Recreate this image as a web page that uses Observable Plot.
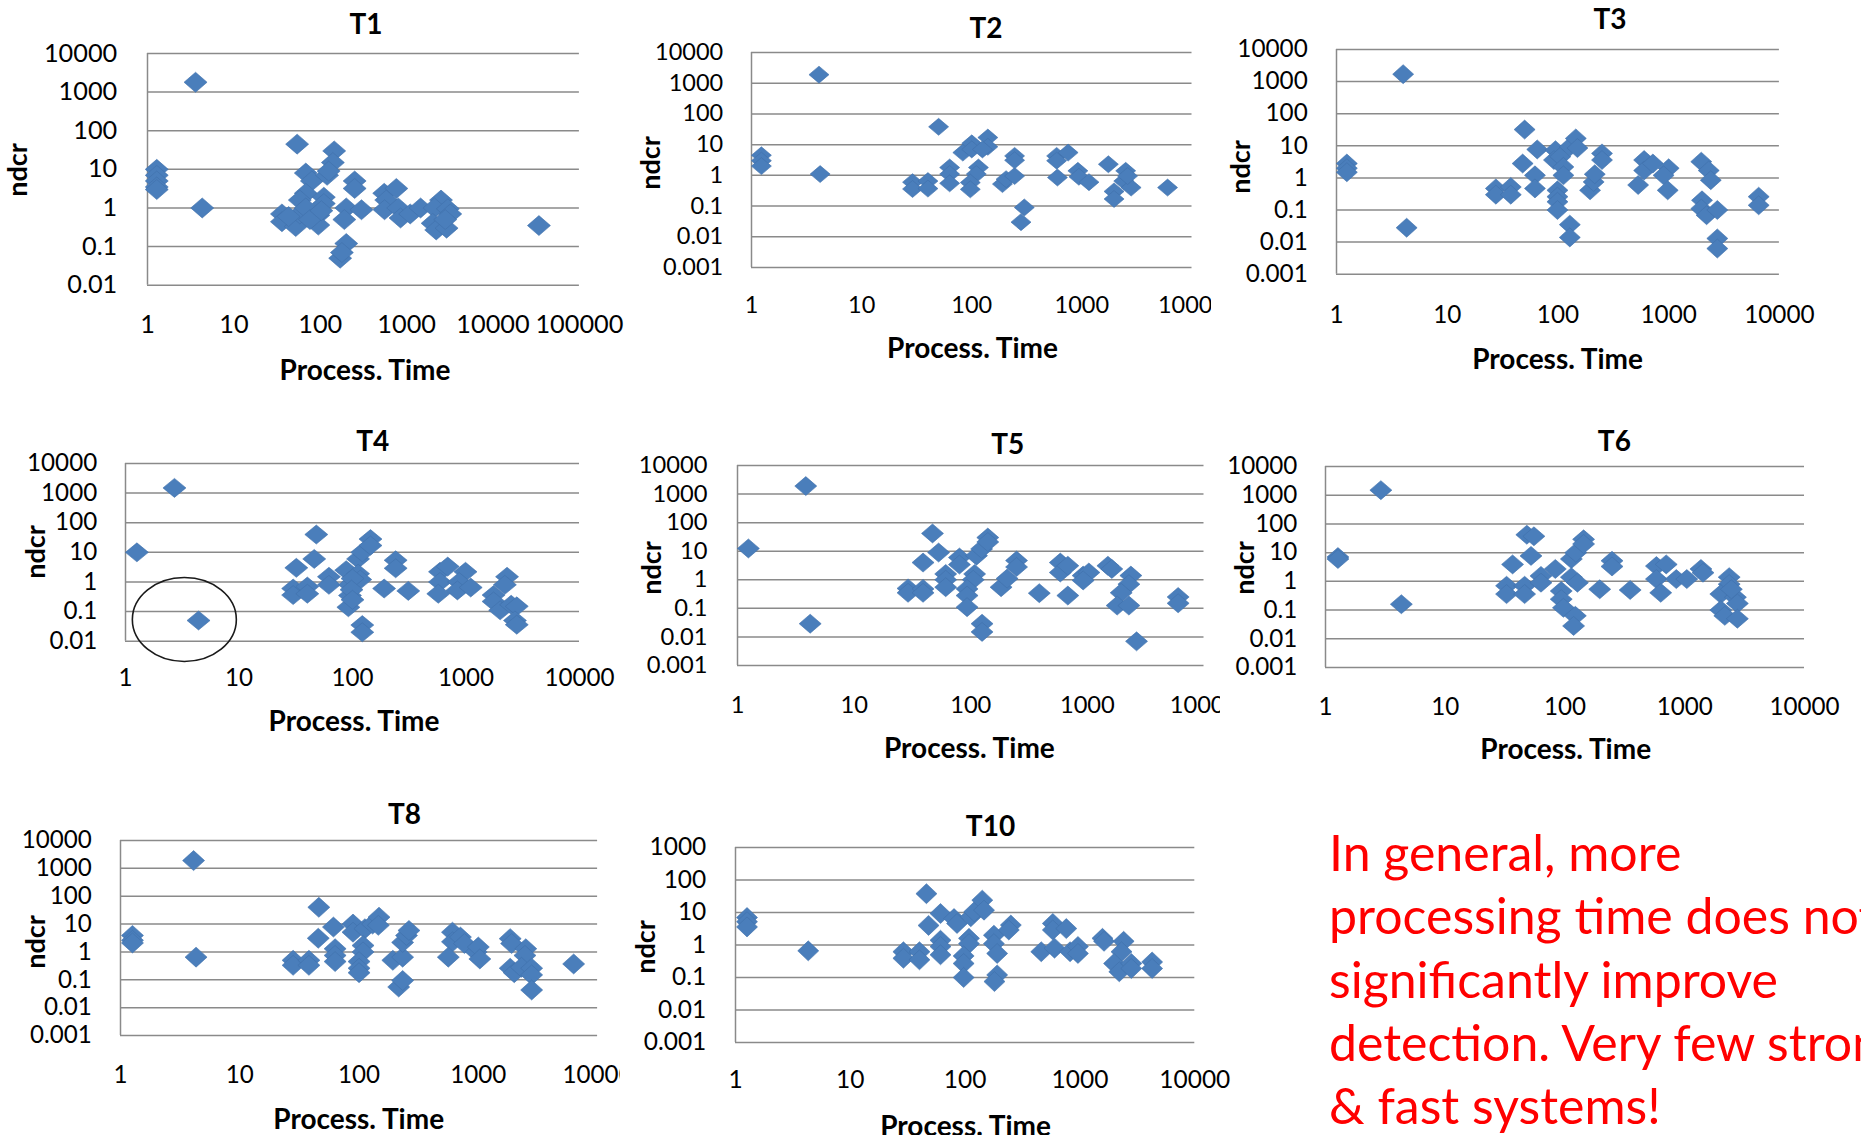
<!DOCTYPE html>
<html>
<head>
<meta charset="utf-8">
<script src="https://cdn.jsdelivr.net/npm/d3@7"></script>
<script src="https://cdn.jsdelivr.net/npm/@observablehq/plot@0.6"></script>
<style>
  html, body { margin: 0; padding: 0; background: #fff; }
  #page { position: relative; width: 1861px; height: 1135px; overflow: hidden; font-family: Lato, "Open Sans", sans-serif; background: #fff; }
  .clip { position: absolute; overflow: hidden; }
  .lbl { position: absolute; transform: translate(-50%, -50%); font-weight: bold; white-space: nowrap; color: #000; line-height: 1; }
  .ylbl { transform: translate(-50%, -50%) rotate(-90deg); }
  .note { position: absolute; color: #ff0000; white-space: nowrap; font-size: 50px; line-height: 63.3px; }
</style>
</head>
<body>
<div id="page"></div>
<script>
// ---- Tick values -------------------------------------------------------
const timeTicksWide = [1, 10, 100, 1000, 10000, 100000];
const timeTicks = [1, 10, 100, 1000, 10000];
const ndcrTicksTo001 = [0.01, 0.1, 1, 10, 100, 1000, 10000];
const ndcrTicksTo0001 = [0.001, 0.01, 0.1, 1, 10, 100, 1000, 10000];
const ndcrTicksTo1000 = [0.001, 0.01, 0.1, 1, 10, 100, 1000];

// ---- Per-task results: processing time vs. ndcr ------------------------
const t1Time = [3.6, 4.3, 1.28, 1.28, 1.28, 1.28, 1.28, 54, 145, 140, 68, 80, 120, 125, 250, 250, 68, 58, 110, 110, 200, 300, 36, 36, 52, 52, 58, 95, 95, 190, 200, 170, 178, 550, 760, 580, 555, 800, 850, 1100, 1450, 2500, 2100, 3000, 3200, 2000, 2200, 2900, 2800, 34000, 43, 68, 76, 103];
const t1Ndcr = [1800, 1, 10, 7, 5, 3.5, 3, 45, 30, 15, 8, 5, 7, 9, 5, 3.2, 2.4, 1.6, 1.9, 1.3, 1, 0.9, 0.7, 0.44, 0.5, 0.33, 0.7, 0.65, 0.36, 0.5, 0.12, 0.05, 0.07, 2.4, 3.2, 1.6, 0.9, 1, 0.55, 0.7, 1, 1.6, 1, 0.95, 0.7, 0.4, 0.27, 0.3, 0.5, 0.35, 0.6, 1.0, 0.5, 0.85];

const t2Time = [4.1, 4.2, 1.23, 1.23, 1.23, 50, 29, 29, 40, 40, 63, 63, 63, 83, 100, 100, 115, 110, 97, 97, 140, 140, 125, 190, 205, 245, 245, 245, 300, 280, 590, 590, 750, 600, 920, 940, 1160, 1740, 2500, 2400, 1960, 1960, 2800, 2600, 6000];
const t2Ndcr = [1900, 1.1, 4.5, 3, 2, 38, 0.6, 0.36, 0.65, 0.37, 1.8, 1.1, 0.55, 5.5, 11, 7, 1.8, 1.1, 0.58, 0.35, 17, 8.5, 7, 0.52, 0.75, 0.95, 4.3, 3.1, 0.09, 0.03, 4.3, 3, 5.5, 0.85, 1.4, 0.9, 0.6, 2.3, 1.4, 0.65, 0.3, 0.17, 0.4, 0.95, 0.4];

const t3Time = [4, 4.3, 1.24, 1.24, 1.24, 50, 65, 48, 62, 62, 27.5, 27.5, 37.5, 37.5, 95, 92, 105, 128, 145, 150, 112, 112, 99, 99, 99, 99, 128, 128, 195, 210, 215, 250, 250, 530, 600, 600, 720, 1000, 900, 980, 1970, 2300, 2400, 2000, 1970, 2200, 2750, 2750, 2750, 6500, 6500];
const t3Ndcr = [1700, 0.028, 2.8, 2, 1.5, 32, 7.7, 2.8, 1.2, 0.47, 0.47, 0.3, 0.52, 0.3, 7.3, 3.6, 4.6, 9.3, 17, 8.5, 2.2, 1.2, 0.41, 0.26, 0.18, 0.1, 0.035, 0.014, 0.41, 0.75, 1.3, 5.8, 3.6, 0.6, 3.6, 1.7, 2.8, 2, 1.2, 0.41, 3.2, 1.7, 0.85, 0.2, 0.11, 0.069, 0.1, 0.013, 0.0063, 0.26, 0.14];

const t4Time = [2.7, 4.4, 1.26, 48, 46, 32, 30, 30, 40, 40, 62, 62, 88, 95, 95, 92, 112, 122, 144, 144, 112, 117, 122, 122, 190, 240, 240, 310, 590, 590, 570, 690, 990, 870, 840, 1100, 2300, 2200, 1750, 1750, 2000, 2500, 2800, 2700, 2800, 100, 98, 100];
const t4Ndcr = [1500, 0.05, 10, 40, 6, 3, 0.6, 0.36, 0.7, 0.4, 1.5, 0.8, 2.5, 0.8, 0.35, 0.14, 6, 10, 28, 17, 1.9, 1.2, 0.035, 0.02, 0.6, 5.4, 2.9, 0.5, 2.2, 1, 0.4, 3.3, 2.2, 1, 0.52, 0.65, 1.5, 0.8, 0.36, 0.22, 0.11, 0.17, 0.15, 0.05, 0.036, 1.3, 0.55, 0.25];
// the outlier ringed in T4
const t4RingTime = [3.3];
const t4RingNdcr = [0.054];

const t5Time = [3.85, 4.2, 1.24, 47, 53, 39, 29, 29, 39, 39, 61, 61, 61, 80, 80, 112, 124, 140, 140, 108, 105, 93, 93, 93, 125, 125, 182, 205, 247, 247, 387, 586, 586, 680, 680, 920, 1030, 920, 1500, 1620, 2360, 2270, 1950, 1800, 2270, 2640, 6000, 6000];
const t5Ndcr = [1900, 0.029, 12.5, 42, 9, 4, 0.5, 0.35, 0.48, 0.35, 1.6, 1, 0.55, 6, 3.4, 7, 12, 30, 21, 1.6, 1, 0.48, 0.28, 0.11, 0.029, 0.015, 0.55, 1.1, 4.7, 2.8, 0.34, 4, 1.8, 3.1, 0.28, 1.4, 1.8, 0.95, 3.1, 2.4, 1.4, 0.7, 0.35, 0.125, 0.125, 0.007, 0.25, 0.15];

const t6Time = [2.9, 4.3, 1.27, 1.27, 48, 55, 52, 36.5, 32.5, 32.5, 46, 46, 63, 63, 83, 93, 93, 97, 113, 123, 143, 143, 113, 127, 122, 118, 195, 247, 247, 350, 580, 580, 630, 700, 850, 1040, 1365, 1420, 2350, 2350, 2000, 2000, 2160, 2650, 2750, 2750, 2450];
const t6Ndcr = [1500, 0.16, 7, 6, 42, 37, 7.7, 3.9, 0.7, 0.36, 0.7, 0.36, 1.55, 0.9, 2.7, 0.46, 0.24, 0.12, 6, 10, 29, 20, 1.4, 0.9, 0.063, 0.028, 0.53, 5.2, 3.3, 0.5, 3.4, 1.2, 0.4, 3.9, 1.2, 1.2, 2.7, 2, 1.4, 0.8, 0.36, 0.1, 0.063, 0.28, 0.17, 0.05, 0.53];

const t8Time = [4.1, 4.3, 1.26, 1.26, 1.26, 46, 61, 45.5, 28, 28, 38, 38, 63, 63, 63, 89, 89, 112, 130, 147, 145, 108, 108, 100, 100, 100, 192, 232, 232, 250, 262, 215, 232, 607, 607, 560, 708, 765, 960, 1000, 1030, 1850, 1900, 2500, 2460, 1850, 2000, 2300, 2800, 2800, 2800, 6300];
const t8Ndcr = [1900, 0.65, 3.9, 2.6, 2.1, 40, 7.8, 3.1, 0.5, 0.33, 0.5, 0.33, 1.3, 0.75, 0.45, 10, 5.1, 6.8, 10, 17.7, 9, 1.7, 1, 0.45, 0.26, 0.18, 0.5, 0.65, 2.2, 3.9, 5.9, 0.055, 0.094, 5.1, 2.3, 0.65, 3.4, 2, 1, 1.5, 0.56, 3, 2, 1.3, 0.75, 0.26, 0.18, 0.28, 0.26, 0.15, 0.043, 0.37];

const t10Time = [1.26, 1.26, 1.26, 4.3, 46, 48, 61, 80, 85, 112, 120, 141, 146, 61, 61, 61, 29, 29, 40, 40, 108, 108, 97, 97, 97, 178, 178, 190, 190, 180, 250, 240, 460, 580, 580, 600, 760, 820, 960, 960, 1570, 1620, 2400, 2300, 1980, 2200, 2800, 2800, 4250, 4250];
const t10Ndcr = [7, 5.2, 3.6, 0.66, 38, 4, 9.3, 6.5, 4.6, 7.4, 10.5, 24, 11.8, 1.4, 0.9, 0.5, 0.62, 0.39, 0.62, 0.35, 1.6, 1.1, 0.46, 0.27, 0.1, 2, 1.1, 0.55, 0.12, 0.075, 4.1, 2.9, 0.62, 4.6, 2.9, 0.8, 3.2, 0.62, 0.9, 0.55, 1.6, 1.3, 1.3, 0.62, 0.27, 0.15, 0.27, 0.19, 0.3, 0.19];

const noteLines = ["In general, more", "processing time does not", "significantly improve", "detection. Very few strong", "& fast systems!"];

// ---- Panel layout (page pixels) ---------------------------------------
// frame: [left, right, top, bottom] of the plotting area
const panels = [
  { title: "T1", time: t1Time, ndcr: t1Ndcr, xTicks: timeTicksWide, yTicks: ndcrTicksTo001,
    frame: [146.7, 578.6, 53.3, 285], xLabelY: 325, yLabelRight: 116.5, clipRight: 632, marker: [11.5, 10], tickFont: 25.3,
    titlePos: [366, 23.3], yTitlePos: [16, 170], xTitlePos: [365, 369] },
  { title: "T2", time: t2Time, ndcr: t2Ndcr, xTicks: timeTicks, yTicks: ndcrTicksTo0001,
    frame: [751.3, 1191.8, 51.7, 266.7], xLabelY: 305, yLabelRight: 723, clipRight: 1211, marker: [10, 8.5], tickFont: 23.5,
    titlePos: [986, 26.7], yTitlePos: [649, 163], xTitlePos: [972.5, 346.7] },
  { title: "T3", time: t3Time, ndcr: t3Ndcr, xTicks: timeTicks, yTicks: ndcrTicksTo0001,
    frame: [1335.7, 1778.6, 49.3, 274], xLabelY: 315, yLabelRight: 1307, clipRight: 1861, marker: [10.5, 9.5], tickFont: 24.3,
    titlePos: [1610, 18.3], yTitlePos: [1239, 166.7], xTitlePos: [1557.6, 358.3] },
  { title: "T4", time: t4Time, ndcr: t4Ndcr, xTicks: timeTicks, yTicks: ndcrTicksTo001,
    frame: [124.8, 578.8, 463.3, 641], xLabelY: 678, yLabelRight: 96.5, clipRight: 625, marker: [11.5, 9.5], tickFont: 24.2,
    titlePos: [372.7, 440], yTitlePos: [34, 551.7], xTitlePos: [354, 720],
    ring: { time: t4RingTime, ndcr: t4RingNdcr, rx: 52, ry: 42 } },
  { title: "T5", time: t5Time, ndcr: t5Ndcr, xTicks: timeTicks, yTicks: ndcrTicksTo0001,
    frame: [737.1, 1203.6, 465, 665], xLabelY: 705, yLabelRight: 707, clipRight: 1220, marker: [11, 9.5], tickFont: 23.7,
    titlePos: [1007.7, 443.3], yTitlePos: [650, 568.3], xTitlePos: [969.4, 746.7] },
  { title: "T6", time: t6Time, ndcr: t6Ndcr, xTicks: timeTicks, yTicks: ndcrTicksTo0001,
    frame: [1325.2, 1804.2, 465.7, 666.7], xLabelY: 706.7, yLabelRight: 1297, clipRight: 1861, marker: [11, 9.5], tickFont: 24.2,
    titlePos: [1614.4, 440], yTitlePos: [1243, 568.3], xTitlePos: [1565.7, 748.3] },
  { title: "T8", time: t8Time, ndcr: t8Ndcr, xTicks: timeTicks, yTicks: ndcrTicksTo0001,
    frame: [119.6, 596.7, 840, 1035], xLabelY: 1075, yLabelRight: 90.9, clipRight: 620, marker: [11, 10], tickFont: 24.2,
    titlePos: [404.6, 813.3], yTitlePos: [33.9, 941.7], xTitlePos: [358.7, 1118.3] },
  { title: "T10", time: t10Time, ndcr: t10Ndcr, xTicks: timeTicks, yTicks: ndcrTicksTo1000,
    frame: [735.2, 1194.5, 847.3, 1042.3], xLabelY: 1080, yLabelRight: 706, clipRight: 1245, marker: [10.5, 10], tickFont: 24.5,
    titlePos: [990.5, 825], yTitlePos: [644, 946.7], xTitlePos: [965.6, 1125] }
];

const page = document.getElementById("page");
const FONT = "Lato, 'Open Sans', sans-serif";
const GRID = "#8a8a8a";
const MARKER_FILL = "#4a7ebb";
const MARKER_EDGE = "#3f70ab";

// Excel-style filled diamond with its own half-width / half-height
function diamondSymbol(hw, hh) {
  return {
    draw(ctx) {
      ctx.moveTo(0, -hh); ctx.lineTo(hw, 0); ctx.lineTo(0, hh); ctx.lineTo(-hw, 0); ctx.closePath();
    }
  };
}

// Open ellipse built from four cubic curves
function ellipseSymbol(rx, ry) {
  const k = 0.5523;
  return {
    draw(ctx) {
      ctx.moveTo(rx, 0);
      ctx.bezierCurveTo(rx, k * ry, k * rx, ry, 0, ry);
      ctx.bezierCurveTo(-k * rx, ry, -rx, k * ry, -rx, 0);
      ctx.bezierCurveTo(-rx, -k * ry, -k * rx, -ry, 0, -ry);
      ctx.bezierCurveTo(k * rx, -ry, rx, -k * ry, rx, 0);
      ctx.closePath();
    }
  };
}

function addLabel(text, pos, size, extraClass) {
  const d = document.createElement("div");
  d.className = "lbl" + (extraClass ? " " + extraClass : "");
  d.style.left = pos[0] + "px";
  d.style.top = pos[1] + "px";
  d.style.fontSize = size + "px";
  d.textContent = text;
  page.appendChild(d);
}

function drawPanel(p) {
  const [x0, x1, y0, y1] = p.frame;
  const mL = 110, mT = 16;
  const width = Math.ceil(x1 - x0 + mL + 60);
  const height = Math.ceil(y1 - y0 + mT + (p.xLabelY - y1) + 24);
  const left = x0 - mL, top = y0 - mT;
  const rows = p.time.map((t, i) => ({ time: t, ndcr: p.ndcr[i] }));
  const [hw, hh] = p.marker;

  const marks = [
    Plot.ruleY(p.yTicks, { y: d => d, stroke: GRID, strokeWidth: 1.5 }),
    Plot.ruleX([p.xTicks[0]], { x: d => d, stroke: GRID, strokeWidth: 1.5 }),
    Plot.text(p.yTicks, {
      y: d => d, text: d => String(d), frameAnchor: "left", textAnchor: "end",
      lineAnchor: "middle", dx: p.yLabelRight - x0, fontSize: p.tickFont, fill: "#000"
    }),
    Plot.text(p.xTicks, {
      x: d => d, text: d => String(d), frameAnchor: "bottom", textAnchor: "middle",
      lineAnchor: "middle", dy: p.xLabelY - y1, fontSize: p.tickFont, fill: "#000"
    }),
    Plot.dot(rows, {
      x: "time", y: "ndcr", symbol: diamondSymbol(hw, hh),
      fill: MARKER_FILL, stroke: MARKER_EDGE, strokeWidth: 0.6
    })
  ];
  if (p.ring) {
    const ringRows = p.ring.time.map((t, i) => ({ time: t, ndcr: p.ring.ndcr[i] }));
    marks.push(Plot.dot(ringRows, {
      x: "time", y: "ndcr", symbol: ellipseSymbol(p.ring.rx, p.ring.ry),
      fill: "none", stroke: "#1a1a1a", strokeWidth: 1.6
    }));
  }

  const chart = Plot.plot({
    width, height,
    marginLeft: mL, marginTop: mT,
    marginRight: width - mL - (x1 - x0),
    marginBottom: height - mT - (y1 - y0),
    x: { type: "log", domain: [p.xTicks[0], p.xTicks[p.xTicks.length - 1]], axis: null },
    y: { type: "log", domain: [p.yTicks[0], p.yTicks[p.yTicks.length - 1]], axis: null },
    style: { fontFamily: FONT, background: "transparent", overflow: "visible", maxWidth: "none", color: "#000" },
    marks
  });

  const box = document.createElement("div");
  box.className = "clip";
  box.style.left = left + "px";
  box.style.top = top + "px";
  box.style.width = Math.max(0, Math.min(width, p.clipRight - left)) + "px";
  box.style.height = height + "px";
  box.appendChild(chart);
  page.appendChild(box);

  addLabel(p.title, p.titlePos, 28);
  addLabel("ndcr", p.yTitlePos, 27, "ylbl");
  addLabel("Process. Time", p.xTitlePos, 28);
}

panels.forEach(drawPanel);

// Red takeaway note
const note = document.createElement("div");
note.className = "note";
note.style.left = "1329px";
note.style.top = "821px";
note.innerHTML = noteLines.map(s => s.replace(/&/g, "&amp;")).join("<br>");
page.appendChild(note);
</script>
</body>
</html>
